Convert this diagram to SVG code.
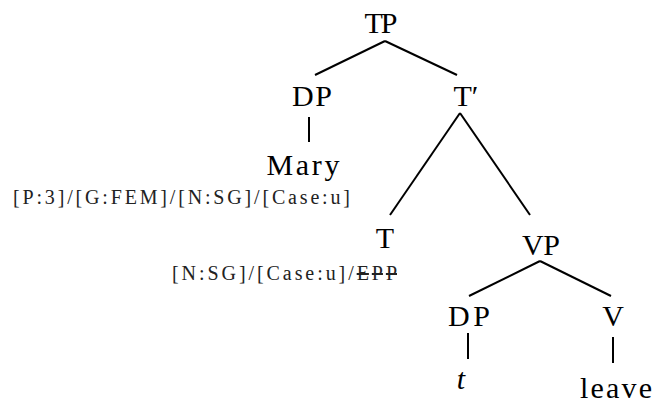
<svg xmlns="http://www.w3.org/2000/svg" width="658" height="403" viewBox="0 0 658 403">
<style>
.n{font-family:"Liberation Serif","Times New Roman",serif;font-size:30px;fill:#000;text-anchor:middle}
.f{font-family:"Liberation Serif","Times New Roman",serif;font-size:20px;fill:#222;text-anchor:start}
.e line{stroke:#000;stroke-width:2;fill:none}
</style>
<rect width="658" height="403" fill="#fff"/>
<g id="edges" class="e">
<line x1="385" y1="41" x2="315" y2="75"/>
<line x1="385" y1="41" x2="457" y2="75"/>
<line x1="309" y1="117" x2="309" y2="142"/>
<line x1="460" y1="113" x2="390" y2="215"/>
<line x1="460" y1="113" x2="530" y2="215"/>
<line x1="540" y1="261" x2="469" y2="296"/>
<line x1="540" y1="261" x2="611" y2="296"/>
<line x1="468" y1="333" x2="468" y2="359"/>
<line x1="613" y1="337" x2="613" y2="363"/>
</g>
<g id="TP"><text class="n" x="381" y="33" textLength="33">TP</text></g>
<g id="DP1"><text class="n" x="312" y="106" textLength="40">DP</text></g>
<g id="Tbar"><text class="n" x="466" y="106">T′</text></g>
<g id="Mary"><text class="n" x="303" y="175" textLength="73">Mary</text>
<text class="f" x="13" y="204" textLength="337">[P:3]/[G:FEM]/[N:SG]/[Case:u]</text></g>
<g id="T"><text class="n" x="385" y="248">T</text>
<text class="f" x="172" y="280" textLength="225">[N:SG]/[Case:u]/<tspan style="text-decoration:line-through">EPP</tspan></text></g>
<g id="VP"><text class="n" x="541" y="255" textLength="38">VP</text></g>
<g id="DP2"><text class="n" x="469" y="326" textLength="42">DP</text></g>
<g id="V"><text class="n" x="613" y="326">V</text></g>
<g id="t"><text class="n" x="461" y="389" font-style="italic">t</text></g>
<g id="leave"><text class="n" x="616" y="398" textLength="72">leave</text></g>
</svg>
